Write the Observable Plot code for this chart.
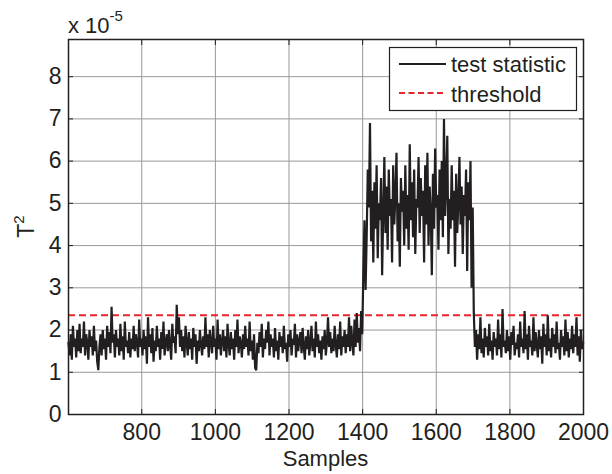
<!DOCTYPE html>
<html>
<head>
<meta charset="utf-8">
<script src="https://cdn.jsdelivr.net/npm/d3@7"></script>
<script src="https://cdn.jsdelivr.net/npm/@observablehq/plot@0.6"></script>
<style>
  html, body { margin: 0; padding: 0; background: #fff; }
  #chart { position: relative; width: 612px; height: 474px; }
  svg { font-family: "Liberation Sans", Arial, sans-serif; }
</style>
</head>
<body>
<div id="chart"></div>
<script>
// ---- data (T^2 values in units of 1e-5), one value every 3 samples ----
const sampleStart = 601;
const sampleStep = 3;
const exponent = -5;
const threshold = 2.35;
const xTicks = [800, 1000, 1200, 1400, 1600, 1800, 2000];
const yTicks = [0, 1, 2, 3, 4, 5, 6, 7, 8];
const xDomain = [601, 2000];
const yDomain = [0, 8.88];
const seriesNames = ["test statistic", "threshold"];

// normal operation, samples 601-1399
const normalBefore = [
  1.7,1.4,1.9,1.3,2.1,1.6,1.8,1.35,2.0,1.5,
  2.15,1.45,1.8,1.6,2.2,1.4,1.9,1.7,1.3,2.0,
  1.6,1.85,1.4,2.1,1.5,1.75,1.25,1.05,1.6,1.9,
  1.4,2.0,1.55,1.8,1.3,2.1,1.6,1.95,1.45,2.55,
  1.7,1.9,1.35,2.0,1.6,1.8,1.4,2.15,1.5,1.85,
  1.3,2.2,1.6,1.75,1.45,1.95,1.35,1.8,1.55,2.1,
  1.5,1.9,1.7,1.35,2.25,1.6,1.8,1.4,2.0,1.55,
  1.85,1.2,2.3,1.6,1.9,1.45,2.05,1.25,1.75,1.5,
  2.1,1.6,1.8,1.3,1.95,1.55,2.2,1.4,1.7,1.9,
  1.5,2.0,1.65,1.3,2.15,1.7,1.85,1.45,2.6,1.9,
  2.3,1.6,2.0,1.5,1.85,1.35,2.1,1.7,1.4,1.95,
  1.55,1.8,1.3,2.05,1.6,1.9,1.2,1.75,1.5,2.0,
  1.65,1.4,1.85,1.55,2.3,1.6,1.9,1.35,2.0,1.7,
  1.45,2.1,1.6,1.8,1.3,2.25,1.55,1.9,1.4,1.75,
  2.0,1.5,1.85,1.35,2.15,1.65,1.4,1.95,1.55,1.8,
  1.3,2.0,1.6,2.25,1.45,1.85,1.7,1.35,1.9,1.55,
  2.1,1.6,1.8,1.4,2.2,1.5,1.75,1.3,1.9,1.1,
  1.05,1.7,1.45,1.95,1.6,2.15,1.35,1.8,1.55,2.0,
  1.7,2.2,1.4,1.9,1.6,1.8,1.35,2.05,1.5,1.75,
  1.3,1.95,1.6,1.85,1.45,2.1,1.55,1.7,1.25,1.9,
  1.6,2.0,1.4,1.8,1.65,2.15,1.35,1.9,1.5,1.75,
  1.95,1.45,2.05,1.6,1.3,1.85,1.55,2.0,1.4,1.7,
  2.1,1.5,1.8,1.35,2.2,1.6,1.9,1.45,1.75,1.3,
  1.85,1.55,2.0,1.4,1.7,2.3,1.6,1.95,1.45,1.8,
  1.5,2.1,1.65,1.35,1.9,1.55,2.2,1.4,1.85,1.6,
  2.0,1.45,1.9,1.6,2.3,1.5,2.1,1.7,1.4,2.25,
  1.6,2.4,1.7,2.05,1.5,2.45,1.9
];
// fault, samples 1402-1699
const faultPeriod = [
  3.4,4.6,2.95,4.2,5.8,4.9,6.9,4.1,5.3,3.6,
  5.5,4.4,5.9,3.7,5.0,4.6,5.6,3.3,4.8,6.1,
  4.3,5.4,3.9,5.8,4.7,5.1,3.6,5.9,4.5,5.2,
  6.2,4.1,5.0,3.5,5.6,4.8,5.3,4.0,5.9,4.4,
  5.2,3.9,6.4,4.6,5.5,4.2,5.8,3.8,5.1,4.9,
  6.1,4.3,5.6,4.7,5.3,3.6,5.9,4.5,6.2,4.0,
  5.4,4.8,3.3,5.7,4.4,6.3,4.9,5.2,3.9,5.8,
  4.6,6.0,4.2,7.0,4.7,5.5,6.6,3.8,5.1,4.4,
  5.9,4.6,5.3,3.5,5.7,4.3,5.0,6.1,4.5,5.4,
  3.8,5.2,4.7,5.8,3.4,5.5,4.6,6.0,3.0,4.9
];
// normal operation, samples 1702-1999
const normalAfter = [
  2.4,1.6,2.0,1.3,1.9,1.55,2.3,1.45,1.8,1.35,
  2.05,1.6,1.85,1.4,2.15,1.5,1.75,1.3,1.95,1.6,
  1.8,1.4,2.25,1.55,1.9,1.35,2.5,1.6,1.75,1.45,
  2.0,1.5,1.85,1.3,1.95,1.65,2.1,1.4,1.7,1.55,
  1.9,1.35,2.2,1.6,1.8,1.45,2.45,1.55,1.9,1.3,
  2.1,1.6,1.75,1.4,2.3,1.5,1.95,1.65,1.35,2.0,
  1.55,1.85,1.2,2.15,1.6,1.9,1.4,2.35,1.5,1.8,
  1.35,2.05,1.6,1.9,1.45,2.2,1.55,1.7,1.3,2.0,
  1.6,1.85,1.4,2.25,1.5,1.95,1.35,1.8,1.55,2.1,
  1.45,1.9,1.6,2.3,1.4,1.85,1.25,2.0,1.55,1.7
];

const values = [...normalBefore, ...faultPeriod, ...normalAfter];
const data = values.map((v, i) => ({sample: sampleStart + i * sampleStep, t2: v}));

const tickFont = 23;
const labelFont = 22;
const ink = "#231f20";
const red = "#e8252b";

const plot = Plot.plot({
  width: 612,
  height: 474,
  marginLeft: 68,
  marginRight: 29,
  marginTop: 39,
  marginBottom: 60,
  style: {fontFamily: "Liberation Sans, Arial, sans-serif", fontSize: tickFont + "px", color: ink, background: "#fff"},
  x: {domain: xDomain},
  y: {domain: yDomain},
  marks: [
    Plot.gridX(xTicks, {stroke: "#999", strokeOpacity: 1, strokeWidth: 1}),
    Plot.gridY(yTicks, {stroke: "#999", strokeOpacity: 1, strokeWidth: 1}),
    Plot.ruleY([threshold], {stroke: red, strokeWidth: 2, strokeDasharray: "7,4"}),
    Plot.line(data, {x: "sample", y: "t2", stroke: ink, strokeWidth: 2.2, strokeLinejoin: "miter"}),
    Plot.axisX({anchor: "bottom", ticks: xTicks, tickSize: -5, tickPadding: 14, tickFormat: d => String(d), label: null, fontSize: tickFont, stroke: ink}),
    Plot.axisX({anchor: "top", ticks: xTicks, tickSize: -5, tickFormat: () => "", label: null, stroke: ink}),
    Plot.axisY({anchor: "left", ticks: yTicks, tickSize: -5, tickPadding: 12, tickFormat: d => String(d), label: null, fontSize: tickFont, stroke: ink}),
    Plot.axisY({anchor: "right", ticks: yTicks, tickSize: -5, tickFormat: () => "", label: null, stroke: ink}),
    Plot.frame({stroke: ink, strokeWidth: 1.5})
  ]
});

document.getElementById("chart").appendChild(plot);

// extra texts and legend
const svg = d3.select(plot);
const x0 = 68, x1 = 583, y0 = 39, y1 = 414;

svg.append("text")
  .attr("x", (x0 + x1) / 2).attr("y", 466)
  .attr("text-anchor", "middle").attr("fill", ink).attr("font-size", labelFont)
  .text("Samples");

const yl = svg.append("text")
  .attr("transform", `translate(34,${(y0 + y1) / 2}) rotate(-90)`)
  .attr("text-anchor", "middle").attr("fill", ink).attr("font-size", 23);
yl.append("tspan").text("T");
yl.append("tspan").attr("dy", -10).attr("font-size", 15).text("2");

const ex = svg.append("text")
  .attr("x", 68).attr("y", 33).attr("text-anchor", "start").attr("fill", ink).attr("font-size", 22);
ex.append("tspan").text("x 10");
ex.append("tspan").attr("dy", -12).attr("font-size", 15).text(String(exponent));

const lg = svg.append("g");
lg.append("rect").attr("x", 389.5).attr("y", 47.5).attr("width", 187).attr("height", 63)
  .attr("fill", "#fff").attr("stroke", ink).attr("stroke-width", 1.2);
lg.append("line").attr("x1", 399).attr("x2", 446).attr("y1", 64).attr("y2", 64)
  .attr("stroke", ink).attr("stroke-width", 2.2);
lg.append("line").attr("x1", 399).attr("x2", 446).attr("y1", 93).attr("y2", 93)
  .attr("stroke", red).attr("stroke-width", 2).attr("stroke-dasharray", "6,3.5");
lg.append("text").attr("x", 451).attr("y", 72).attr("text-anchor", "start").attr("fill", ink).attr("font-size", labelFont).text(seriesNames[0]);
lg.append("text").attr("x", 451).attr("y", 102).attr("text-anchor", "start").attr("fill", ink).attr("font-size", labelFont).text(seriesNames[1]);
</script>
</body>
</html>
